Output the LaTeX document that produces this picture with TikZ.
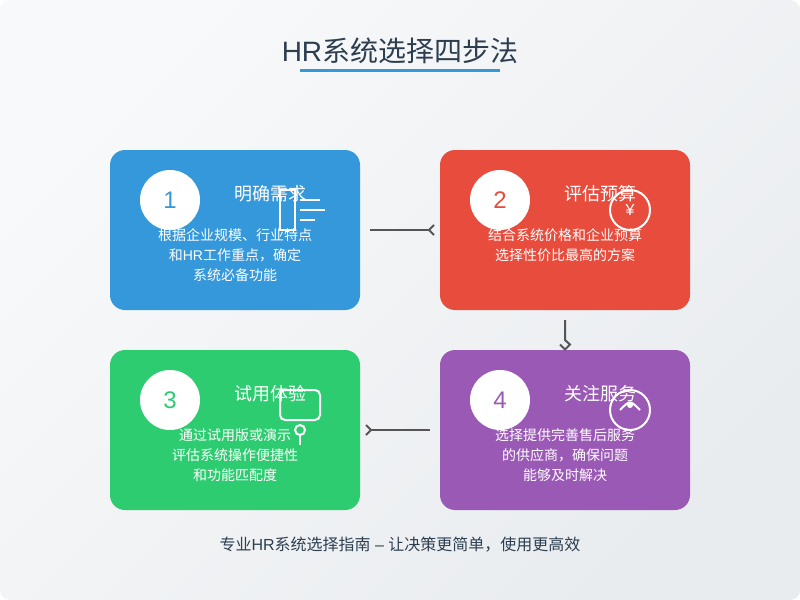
\documentclass[tikz,border=0pt]{standalone}
\usepackage{fontspec}
\setmainfont{Noto Sans CJK SC}
\newfontfamily\latn{Liberation Sans}
\usetikzlibrary{positioning}
\usetikzlibrary{arrows.meta}
\definecolor{cblue}{HTML}{3498DB}
\definecolor{cred}{HTML}{E74C3C}
\definecolor{cgreen}{HTML}{2ECC71}
\definecolor{cpurple}{HTML}{9B59B6}
\definecolor{cink}{HTML}{2C3E50}
\definecolor{cflow}{HTML}{555555}
\definecolor{cbgtop}{HTML}{F8F9FA}
\definecolor{cbgbot}{HTML}{E9ECEF}
\tikzstyle{card} = [rounded corners=11.25pt,minimum width=187.5pt,minimum height=120pt,inner sep=0pt,outer sep=0pt]
\tikzstyle{num} = [circle,fill=white,minimum size=45pt,inner sep=0pt,font=\latn\fontsize{18pt}{18pt}\selectfont]
\tikzstyle{cardhead} = [anchor=base,text=white,inner sep=0pt,font=\fontsize{13.5pt}{16pt}\selectfont]
\tikzstyle{desc} = [anchor=base,text=white,inner sep=0pt,align=center,font=\fontsize{10.5pt}{15pt}\selectfont]
\tikzstyle{icon} = [draw=white,line width=1.5pt]
\tikzstyle{flow} = [draw=cflow,line width=1.5pt]
\tikzstyle{barb} = [-{Straight Barb[reversed,length=3.75pt,width=7.5pt,line width=1.5pt]},shorten >=3.75pt,shorten <=7.5pt]

\begin{document}
\begin{tikzpicture}[x=.75pt,y=-.75pt]
  \useasboundingbox (0,0) rectangle (800,600);
  \shade [rounded corners=7.5pt,top color=cbgtop,bottom color=cbgbot,shading angle=45] (0,0) rectangle (800,600);

  \node [anchor=base,text=cink,inner sep=0pt,font=\fontsize{21pt}{24pt}\selectfont] (title) at (400,61) {{\latn HR}系统选择四步法};
  \coordinate (ruleL) at (300,70);
  \coordinate (ruleR) at (500,70);
  \draw [cblue,line width=2.25pt] (ruleL) -- (ruleR);

  \node [card,fill=cblue] (card1) at (235,230) {};
  \node [card,fill=cred,right=60pt of card1] (card2) {};
  \node [card,fill=cgreen,below=30pt of card1] (card3) {};
  \node [card,fill=cpurple,right=60pt of card3] (card4) {};

  % need
  \draw [icon] (280,190) rectangle (295,230);
  \draw [icon] (300,200) -- (320,200);
  \draw [icon] (300,210) -- (325,210);
  \draw [icon] (300,220) -- (315,220);
  % budget
  \draw [icon] (630,210) circle (15pt);
  % trial
  \draw [icon,rounded corners=3.75pt] (280,390) rectangle (320,420);
  \draw [icon] (300,430) circle (3.75pt);
  \draw [icon] (300,435) -- (300,445);
  % service
  \draw [icon] (630,410) circle (15pt);
  \draw [icon] (620,410) .. controls (630,400) .. (640,410);
  \fill [white] (630,405) circle (2.25pt);

  \node [num,text=cblue,xshift=-48.75pt,yshift=22.5pt] (n1) at (card1) {1};
  \node [num,text=cred,xshift=-48.75pt,yshift=22.5pt] (n2) at (card2) {2};
  \node [num,text=cgreen,xshift=-48.75pt,yshift=22.5pt] (n3) at (card3) {3};
  \node [num,text=cpurple,xshift=-48.75pt,yshift=22.5pt] (n4) at (card4) {4};

  \node [cardhead,xshift=26.25pt,yshift=22.5pt] (h1) at (card1) {明确需求};
  \node [cardhead,xshift=26.25pt,yshift=22.5pt] (h2) at (card2) {评估预算};
  \node [cardhead,xshift=26.25pt,yshift=22.5pt] (h3) at (card3) {试用体验};
  \node [cardhead,xshift=26.25pt,yshift=22.5pt] (h4) at (card4) {关注服务};

  \node [desc,yshift=-37.5pt] (d1) at (card1) {根据企业规模、行业特点\\和{\latn HR}工作重点，确定\\系统必备功能};
  \node [desc,yshift=-22.5pt] (d2) at (card2) {结合系统价格和企业预算\\选择性价比最高的方案};
  \node [desc,yshift=-37.5pt] (d3) at (card3) {通过试用版或演示\\评估系统操作便捷性\\和功能匹配度};
  \node [desc,yshift=-37.5pt] (d4) at (card4) {选择提供完善售后服务\\的供应商，确保问题\\能够及时解决};
  \node [anchor=base,text=white,inner sep=0pt,font=\latn\fontsize{12pt}{14pt}\selectfont] (yen) at (630,215) {¥};

  \draw [flow,barb] (card1) -- (card2);
  \coordinate [above=7.5pt of card4.north] (hook);
  \draw [flow,shorten <=7.5pt] (card2) -- (hook) -- ++(5,4.5) -- ++(-5,5) -- ++(-5,-5);
  \draw [flow,barb] (card4) -- (card3);

  \node [anchor=base,text=cink,inner sep=0pt,font=\fontsize{12pt}{14pt}\selectfont] (foot) at (400,550) {专业{\latn HR}系统选择指南{\latn\ –\ }让决策更简单，使用更高效};
\end{tikzpicture}
\end{document}
